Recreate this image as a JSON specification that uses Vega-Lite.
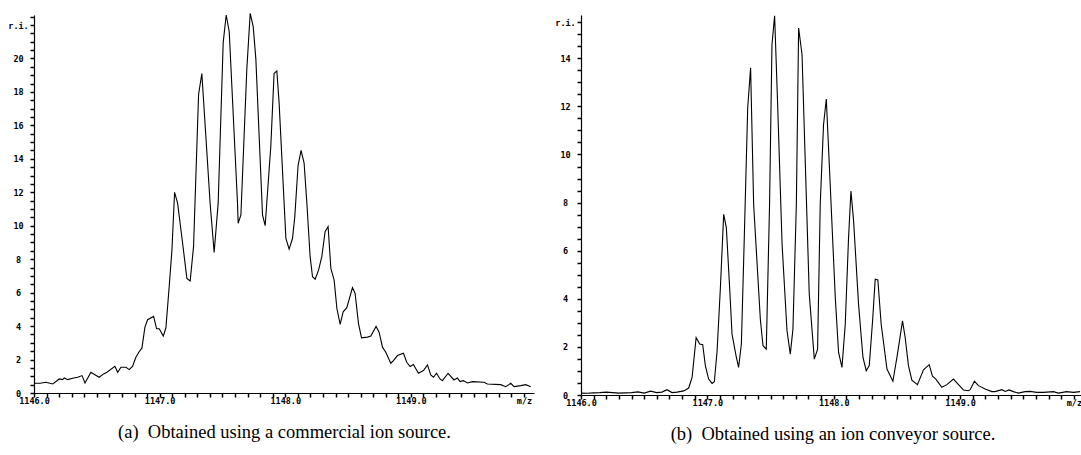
{
  "$schema": "https://vega.github.io/schema/vega-lite/v6.json",
  "background": "white",
  "padding": {"left": 7, "top": 11, "right": 0, "bottom": 5},
  "spacing": 20,
  "config": {
    "view": {"stroke": null},
    "axis": {
      "grid": false,
      "ticks": true,
      "domainColor": "black",
      "domainWidth": 1.2,
      "tickColor": "black",
      "tickWidth": 1.5,
      "tickSize": 4,
      "labelColor": "black",
      "labelFont": "DejaVu Sans Mono",
      "labelFontWeight": "bold",
      "labelFontSize": 8.5,
      "labelFlush": false,
      "labelOverlap": false,
      "labelBound": false
    }
  },
  "datasets": {
    "a": [
      {"mz": 1146.00, "ri": 0.58}, {"mz": 1146.05, "ri": 0.58}, {"mz": 1146.095, "ri": 0.64}, {"mz": 1146.149, "ri": 0.54},
      {"mz": 1146.201, "ri": 0.84}, {"mz": 1146.228, "ri": 0.80}, {"mz": 1146.241, "ri": 0.90}, {"mz": 1146.268, "ri": 0.80},
      {"mz": 1146.308, "ri": 0.88}, {"mz": 1146.348, "ri": 0.94}, {"mz": 1146.382, "ri": 1.04}, {"mz": 1146.406, "ri": 0.60},
      {"mz": 1146.453, "ri": 1.24}, {"mz": 1146.488, "ri": 1.08}, {"mz": 1146.519, "ri": 0.94}, {"mz": 1146.554, "ri": 1.14},
      {"mz": 1146.581, "ri": 1.24}, {"mz": 1146.644, "ri": 1.60}, {"mz": 1146.666, "ri": 1.24}, {"mz": 1146.692, "ri": 1.54},
      {"mz": 1146.732, "ri": 1.54}, {"mz": 1146.758, "ri": 1.40}, {"mz": 1146.785, "ri": 1.60}, {"mz": 1146.811, "ri": 2.14},
      {"mz": 1146.838, "ri": 2.48}, {"mz": 1146.859, "ri": 2.68}, {"mz": 1146.883, "ri": 3.94}, {"mz": 1146.904, "ri": 4.38},
      {"mz": 1146.952, "ri": 4.58}, {"mz": 1146.976, "ri": 3.84}, {"mz": 1146.997, "ri": 3.84}, {"mz": 1147.029, "ri": 3.40},
      {"mz": 1147.050, "ri": 3.90}, {"mz": 1147.076, "ri": 6.35}, {"mz": 1147.098, "ri": 8.55}, {"mz": 1147.119, "ri": 12.0},
      {"mz": 1147.143, "ri": 11.35}, {"mz": 1147.183, "ri": 8.95}, {"mz": 1147.217, "ri": 6.85}, {"mz": 1147.243, "ri": 6.70},
      {"mz": 1147.270, "ri": 8.75}, {"mz": 1147.310, "ri": 17.85}, {"mz": 1147.336, "ri": 19.1}, {"mz": 1147.402, "ri": 11.35},
      {"mz": 1147.434, "ri": 8.4}, {"mz": 1147.466, "ri": 11.35}, {"mz": 1147.506, "ri": 20.96}, {"mz": 1147.530, "ri": 22.6},
      {"mz": 1147.554, "ri": 21.6}, {"mz": 1147.620, "ri": 11.35}, {"mz": 1147.625, "ri": 10.15}, {"mz": 1147.647, "ri": 10.65},
      {"mz": 1147.694, "ri": 19.36}, {"mz": 1147.721, "ri": 22.7}, {"mz": 1147.745, "ri": 21.9}, {"mz": 1147.766, "ri": 19.96},
      {"mz": 1147.819, "ri": 10.65}, {"mz": 1147.840, "ri": 10.0}, {"mz": 1147.885, "ri": 14.75}, {"mz": 1147.911, "ri": 19.1},
      {"mz": 1147.933, "ri": 19.26}, {"mz": 1147.951, "ri": 17.36}, {"mz": 1148.005, "ri": 9.25}, {"mz": 1148.031, "ri": 8.6},
      {"mz": 1148.058, "ri": 9.25}, {"mz": 1148.076, "ri": 10.55}, {"mz": 1148.102, "ri": 13.6}, {"mz": 1148.126, "ri": 14.5},
      {"mz": 1148.150, "ri": 13.75}, {"mz": 1148.172, "ri": 11.35}, {"mz": 1148.198, "ri": 8.15}, {"mz": 1148.217, "ri": 6.95},
      {"mz": 1148.238, "ri": 6.8}, {"mz": 1148.265, "ri": 7.35}, {"mz": 1148.291, "ri": 8.15}, {"mz": 1148.317, "ri": 9.65},
      {"mz": 1148.341, "ri": 9.95}, {"mz": 1148.363, "ri": 7.45}, {"mz": 1148.389, "ri": 6.75}, {"mz": 1148.411, "ri": 5.05},
      {"mz": 1148.437, "ri": 4.1}, {"mz": 1148.461, "ri": 4.85}, {"mz": 1148.490, "ri": 5.1}, {"mz": 1148.535, "ri": 6.3},
      {"mz": 1148.556, "ri": 5.95}, {"mz": 1148.583, "ri": 4.15}, {"mz": 1148.607, "ri": 3.3}, {"mz": 1148.655, "ri": 3.34},
      {"mz": 1148.681, "ri": 3.4}, {"mz": 1148.723, "ri": 3.98}, {"mz": 1148.747, "ri": 3.64}, {"mz": 1148.774, "ri": 2.74},
      {"mz": 1148.800, "ri": 2.44}, {"mz": 1148.840, "ri": 1.78}, {"mz": 1148.861, "ri": 1.94}, {"mz": 1148.893, "ri": 2.24},
      {"mz": 1148.941, "ri": 2.38}, {"mz": 1148.967, "ri": 1.84}, {"mz": 1148.994, "ri": 1.58}, {"mz": 1149.020, "ri": 1.7},
      {"mz": 1149.060, "ri": 1.18}, {"mz": 1149.100, "ri": 1.34}, {"mz": 1149.132, "ri": 1.68}, {"mz": 1149.158, "ri": 1.08},
      {"mz": 1149.180, "ri": 0.94}, {"mz": 1149.204, "ri": 1.18}, {"mz": 1149.232, "ri": 0.84}, {"mz": 1149.251, "ri": 0.74},
      {"mz": 1149.296, "ri": 1.18}, {"mz": 1149.343, "ri": 0.78}, {"mz": 1149.370, "ri": 0.9}, {"mz": 1149.391, "ri": 0.68},
      {"mz": 1149.418, "ri": 0.74}, {"mz": 1149.450, "ri": 0.6}, {"mz": 1149.490, "ri": 0.68}, {"mz": 1149.582, "ri": 0.64},
      {"mz": 1149.609, "ri": 0.54}, {"mz": 1149.715, "ri": 0.5}, {"mz": 1149.755, "ri": 0.38}, {"mz": 1149.795, "ri": 0.58},
      {"mz": 1149.821, "ri": 0.38}, {"mz": 1149.874, "ri": 0.44}, {"mz": 1149.914, "ri": 0.5}, {"mz": 1149.954, "ri": 0.38}
    ],
    "b": [
      {"mz": 1146.00, "ri": 0.08}, {"mz": 1146.05, "ri": 0.07}, {"mz": 1146.10, "ri": 0.09}, {"mz": 1146.15, "ri": 0.10},
      {"mz": 1146.20, "ri": 0.12}, {"mz": 1146.25, "ri": 0.10}, {"mz": 1146.30, "ri": 0.08}, {"mz": 1146.35, "ri": 0.09},
      {"mz": 1146.40, "ri": 0.10}, {"mz": 1146.45, "ri": 0.13}, {"mz": 1146.50, "ri": 0.08}, {"mz": 1146.55, "ri": 0.16},
      {"mz": 1146.60, "ri": 0.10}, {"mz": 1146.64, "ri": 0.12}, {"mz": 1146.68, "ri": 0.22}, {"mz": 1146.72, "ri": 0.10},
      {"mz": 1146.76, "ri": 0.12}, {"mz": 1146.813, "ri": 0.17}, {"mz": 1146.852, "ri": 0.29}, {"mz": 1146.879, "ri": 0.73},
      {"mz": 1146.911, "ri": 2.39}, {"mz": 1146.939, "ri": 2.12}, {"mz": 1146.963, "ri": 2.09}, {"mz": 1146.984, "ri": 1.22},
      {"mz": 1147.010, "ri": 0.66}, {"mz": 1147.037, "ri": 0.48}, {"mz": 1147.055, "ri": 0.55}, {"mz": 1147.077, "ri": 1.84},
      {"mz": 1147.103, "ri": 4.47}, {"mz": 1147.129, "ri": 7.51}, {"mz": 1147.150, "ri": 6.96}, {"mz": 1147.176, "ri": 4.47},
      {"mz": 1147.195, "ri": 2.53}, {"mz": 1147.227, "ri": 1.63}, {"mz": 1147.247, "ri": 1.15}, {"mz": 1147.269, "ri": 2.12},
      {"mz": 1147.292, "ri": 6.54}, {"mz": 1147.319, "ri": 11.94}, {"mz": 1147.342, "ri": 13.6}, {"mz": 1147.366, "ri": 7.93},
      {"mz": 1147.419, "ri": 3.15}, {"mz": 1147.440, "ri": 2.05}, {"mz": 1147.466, "ri": 1.91}, {"mz": 1147.492, "ri": 7.93},
      {"mz": 1147.511, "ri": 14.56}, {"mz": 1147.532, "ri": 15.77}, {"mz": 1147.556, "ri": 12.07}, {"mz": 1147.591, "ri": 6.27},
      {"mz": 1147.630, "ri": 2.67}, {"mz": 1147.656, "ri": 1.70}, {"mz": 1147.677, "ri": 2.74}, {"mz": 1147.704, "ri": 7.93},
      {"mz": 1147.722, "ri": 15.26}, {"mz": 1147.749, "ri": 14.15}, {"mz": 1147.806, "ri": 4.2}, {"mz": 1147.846, "ri": 1.49},
      {"mz": 1147.872, "ri": 1.91}, {"mz": 1147.893, "ri": 7.93}, {"mz": 1147.919, "ri": 11.24}, {"mz": 1147.941, "ri": 12.31},
      {"mz": 1147.967, "ri": 9.31}, {"mz": 1148.012, "ri": 4.05}, {"mz": 1148.038, "ri": 1.77}, {"mz": 1148.065, "ri": 1.15},
      {"mz": 1148.091, "ri": 2.95}, {"mz": 1148.117, "ri": 6.54}, {"mz": 1148.136, "ri": 8.48}, {"mz": 1148.157, "ri": 7.23},
      {"mz": 1148.196, "ri": 3.78}, {"mz": 1148.231, "ri": 1.56}, {"mz": 1148.257, "ri": 1.01}, {"mz": 1148.281, "ri": 1.22},
      {"mz": 1148.307, "ri": 3.08}, {"mz": 1148.328, "ri": 4.81}, {"mz": 1148.349, "ri": 4.78}, {"mz": 1148.375, "ri": 2.95},
      {"mz": 1148.421, "ri": 1.08}, {"mz": 1148.468, "ri": 0.57}, {"mz": 1148.504, "ri": 1.70}, {"mz": 1148.544, "ri": 3.08},
      {"mz": 1148.565, "ri": 2.39}, {"mz": 1148.591, "ri": 1.22}, {"mz": 1148.618, "ri": 0.62}, {"mz": 1148.662, "ri": 0.43},
      {"mz": 1148.710, "ri": 1.05}, {"mz": 1148.755, "ri": 1.26}, {"mz": 1148.781, "ri": 0.78}, {"mz": 1148.808, "ri": 0.66},
      {"mz": 1148.855, "ri": 0.32}, {"mz": 1148.895, "ri": 0.43}, {"mz": 1148.947, "ri": 0.66}, {"mz": 1148.987, "ri": 0.43},
      {"mz": 1149.026, "ri": 0.21}, {"mz": 1149.066, "ri": 0.18}, {"mz": 1149.079, "ri": 0.22}, {"mz": 1149.113, "ri": 0.57},
      {"mz": 1149.145, "ri": 0.39}, {"mz": 1149.198, "ri": 0.25}, {"mz": 1149.251, "ri": 0.14}, {"mz": 1149.277, "ri": 0.14},
      {"mz": 1149.330, "ri": 0.22}, {"mz": 1149.356, "ri": 0.15}, {"mz": 1149.387, "ri": 0.21}, {"mz": 1149.421, "ri": 0.14},
      {"mz": 1149.461, "ri": 0.08}, {"mz": 1149.514, "ri": 0.14}, {"mz": 1149.553, "ri": 0.15}, {"mz": 1149.606, "ri": 0.11},
      {"mz": 1149.659, "ri": 0.11}, {"mz": 1149.738, "ri": 0.14}, {"mz": 1149.777, "ri": 0.08}, {"mz": 1149.843, "ri": 0.14},
      {"mz": 1149.896, "ri": 0.11}, {"mz": 1149.949, "ri": 0.14}
    ]
  },
  "hconcat": [
    {
      "width": 500,
      "height": 378,
      "data": {"name": "a"},
      "mark": {"type": "line", "color": "black", "strokeWidth": 1.1},
      "encoding": {
        "x": {
          "field": "mz", "type": "quantitative",
          "scale": {"domain": [1146, 1149.98], "nice": false, "zero": false},
          "axis": {
            "values": [1146.0,1146.1,1146.2,1146.3,1146.4,1146.5,1146.6,1146.7,1146.8,1146.9,1147.0,1147.1,1147.2,1147.3,1147.4,1147.5,1147.6,1147.7,1147.8,1147.9,1148.0,1148.1,1148.2,1148.3,1148.4,1148.5,1148.6,1148.7,1148.8,1148.9,1149.0,1149.1,1149.2,1149.3,1149.4,1149.5,1149.6,1149.7,1149.8,1149.9],
            "labelExpr": "abs(datum.value - round(datum.value)) < 0.001 ? format(datum.value, '.1f') : (abs(datum.value - 1149.9) < 0.001 ? 'm/z' : '')",
            "labelPadding": -1,
            "title": "(a)\u00a0\u00a0Obtained using a commercial ion source.",
            "titleFont": "Liberation Serif",
            "titleFontSize": 18.5,
            "titleFontWeight": "normal",
            "titleColor": "black",
            "titlePadding": 18
          }
        },
        "y": {
          "field": "ri", "type": "quantitative",
          "scale": {"domain": [0, 22.6], "nice": false},
          "axis": {
            "values": [0,0.5,1,1.5,2,2.5,3,3.5,4,4.5,5,5.5,6,6.5,7,7.5,8,8.5,9,9.5,10,10.5,11,11.5,12,12.5,13,13.5,14,14.5,15,15.5,16,16.5,17,17.5,18,18.5,19,19.5,20,20.5,21,21.5,22,22.5],
            "labelExpr": "datum.value == 22 ? 'r.i.' : (datum.value % 2 == 0 ? format(datum.value, 'd') : '')",
            "labelAlign": "center",
            "labelPadding": 12,
            "title": null
          }
        }
      }
    },
    {
      "width": 503,
      "height": 380,
      "data": {"name": "b"},
      "mark": {"type": "line", "color": "black", "strokeWidth": 1.1},
      "encoding": {
        "x": {
          "field": "mz", "type": "quantitative",
          "scale": {"domain": [1146, 1149.98], "nice": false, "zero": false},
          "axis": {
            "values": [1146.0,1146.1,1146.2,1146.3,1146.4,1146.5,1146.6,1146.7,1146.8,1146.9,1147.0,1147.1,1147.2,1147.3,1147.4,1147.5,1147.6,1147.7,1147.8,1147.9,1148.0,1148.1,1148.2,1148.3,1148.4,1148.5,1148.6,1148.7,1148.8,1148.9,1149.0,1149.1,1149.2,1149.3,1149.4,1149.5,1149.6,1149.7,1149.8,1149.9],
            "labelExpr": "abs(datum.value - round(datum.value)) < 0.001 ? format(datum.value, '.1f') : (abs(datum.value - 1149.9) < 0.001 ? 'm/z' : '')",
            "labelPadding": -1,
            "title": "(b)\u00a0\u00a0Obtained using an ion conveyor source.",
            "titleFont": "Liberation Serif",
            "titleFontSize": 18.5,
            "titleFontWeight": "normal",
            "titleColor": "black",
            "titlePadding": 18
          }
        },
        "y": {
          "field": "ri", "type": "quantitative",
          "scale": {"domain": [0, 15.8], "nice": false},
          "axis": {
            "values": [0,0.5,1,1.5,2,2.5,3,3.5,4,4.5,5,5.5,6,6.5,7,7.5,8,8.5,9,9.5,10,10.5,11,11.5,12,12.5,13,13.5,14,14.5,15,15.5],
            "labelExpr": "datum.value == 15.5 ? 'r.i.' : (datum.value % 2 == 0 ? format(datum.value, 'd') : '')",
            "labelAlign": "center",
            "labelPadding": 12,
            "title": null
          }
        }
      }
    }
  ]
}
